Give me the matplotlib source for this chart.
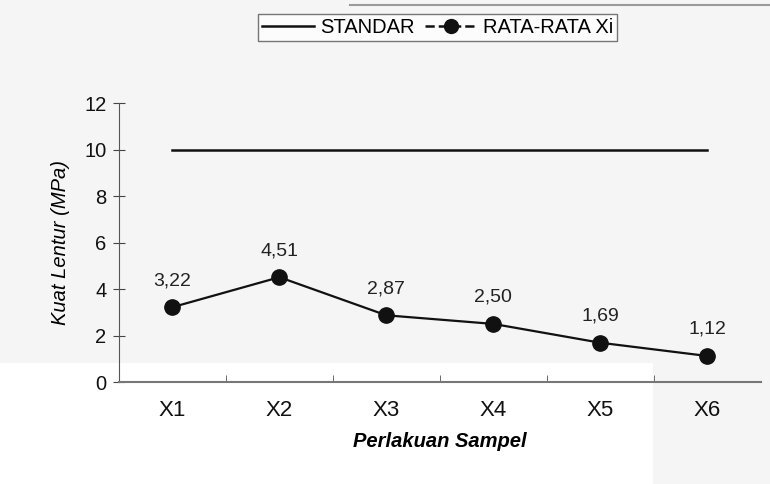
import matplotlib.pyplot as plt
from matplotlib.lines import Line2D
from matplotlib.patches import Rectangle
from matplotlib import font_manager

plt.rcParams['font.family'] = ['Liberation Sans', 'DejaVu Sans']

kategori = ["X1", "X2", "X3", "X4", "X5", "X6"]
rata_rata = [3.22, 4.51, 2.87, 2.50, 1.69, 1.12]
standar = [10, 10, 10, 10, 10, 10]
y_ticks = [0, 2, 4, 6, 8, 10, 12]

# narrow font for the category labels if it exists
names = {f.name for f in font_manager.fontManager.ttflist}
narrow = "Liberation Sans Narrow" if "Liberation Sans Narrow" in names else "Liberation Sans"

fig = plt.figure(figsize=(7.7, 4.84), dpi=100, facecolor="#f5f5f5")
# scanned page: whiter strip at the bottom
fig.patches.append(Rectangle((0, 0), 653 / 770, 121 / 484, transform=fig.transFigure,
                             facecolor="white", edgecolor="none", zorder=-5))
fig.lines.append(Line2D([350 / 770, 1], [1 - 5 / 484, 1 - 5 / 484], transform=fig.transFigure,
                        color="#9a9a9a", linewidth=1.5, zorder=-5))

ax = fig.add_axes([0.1545, 0.2107, 0.8335, 0.5763])
ax.set_facecolor("none")

x = list(range(len(kategori)))
ax.plot(x, standar, color="#111111", linewidth=1.8)
ax.plot(x, rata_rata, color="#111111", linewidth=1.6,
        marker="o", markersize=11, markerfacecolor="#111111")

for xi, v in zip(x, rata_rata):
    ax.annotate(f"{v:.2f}".replace(".", ","), (xi, v), xytext=(0, 13),
                textcoords="offset points", ha="center", va="bottom",
                fontsize=14, color="#222222")

ax.set_xlim(-0.5, len(kategori) - 0.5)
ax.set_ylim(0, 12)
ax.set_yticks(y_ticks)
ax.set_yticklabels([str(t) for t in y_ticks], fontsize=14.5, color="#111111")
ax.set_xticks(x)
ax.set_xticklabels(kategori, fontsize=16, family=[narrow, "DejaVu Sans"], color="#111111")
ax.tick_params(axis="x", length=0, pad=13)
ax.set_xticks([i + 0.5 for i in x[:-1]], minor=True)
ax.tick_params(axis="x", which="minor", direction="in", length=5, color="#555555")
ax.tick_params(axis="y", direction="inout", length=8, color="#444444", pad=5)

for s in ["top", "right"]:
    ax.spines[s].set_visible(False)
ax.spines["left"].set_color("#555555")
ax.spines["bottom"].set_color("#777777")
ax.spines["bottom"].set_linewidth(1.5)

ax.set_ylabel("Kuat Lentur (MPa)", fontsize=14.5, style="italic", labelpad=10)
ax.set_xlabel("Perlakuan Sampel", fontsize=14.5, style="italic",
              fontweight="bold", labelpad=8)

handles = [
    Line2D([], [], color="#111111", linewidth=1.8),
    Line2D([], [], color="#111111", linewidth=1.8, linestyle="--",
           marker="o", markersize=10),
]
leg = fig.legend(handles, ["STANDAR", "RATA-RATA Xi"], loc="center",
                 bbox_to_anchor=(0.568, 0.944), ncol=2, frameon=True,
                 fancybox=False, fontsize=14.5, handlelength=2.6,
                 columnspacing=0.5, handletextpad=0.3, borderpad=0.2)
leg.get_frame().set_edgecolor("#555555")
leg.get_frame().set_facecolor("white")
leg.get_frame().set_linewidth(1.0)

plt.savefig("out.png", dpi=100, facecolor=fig.get_facecolor())
